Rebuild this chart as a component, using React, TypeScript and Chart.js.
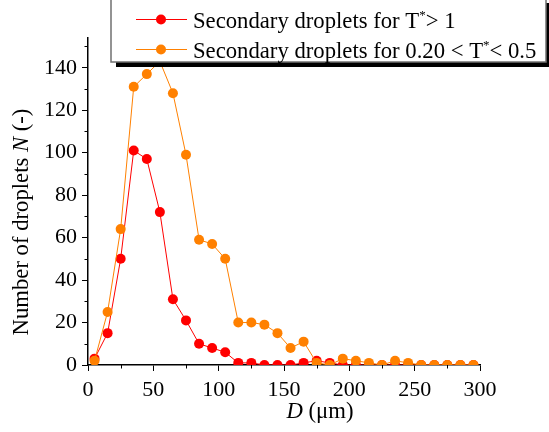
import React, { useEffect, useRef } from 'react';
import { Chart, registerables } from 'chart.js';

Chart.register(...registerables);

// ---------- data ----------
const diameters = [5, 15, 25, 35, 45, 55, 65, 75, 85, 95, 105, 115, 125, 135, 145, 155, 165, 175, 185, 195, 205, 215, 225, 235, 245, 255, 265, 275, 285, 295];
const countsHighT = [3, 15, 50, 101, 97, 72, 31, 21, 10, 8, 6, 1, 1, 0, 0, 0, 1, 2, 1, 0, 0, 0, 0, 0, 0, 0, 0, 0, 0, 0];
const countsMidT = [2, 25, 64, 131, 137, 143, 128, 99, 59, 57, 50, 20, 20, 19, 15, 8, 11, 1, 0, 3, 2, 1, 0, 2, 1, 0, 0, 0, 0, 0];

const xMajorTicks = [0, 50, 100, 150, 200, 250, 300];
const xMinorTicks = [25, 75, 125, 175, 225, 275];
const yMajorTicks = [0, 20, 40, 60, 80, 100, 120, 140];
const yMinorTicks = [10, 30, 50, 70, 90, 110, 130, 150];

const legendHighT = ['Secondary droplets for T', '*', '> 1'];
const legendMidT = ['Secondary droplets for 0.20 < T', '*', '< 0.5'];

const RED = '#ff0000';
const ORANGE = '#ff8000';
const FONT = '"Liberation Serif", "Times New Roman", serif';
const FS = 22;
const TFS = 22.7;

type Seg = { t: string; italic?: boolean; sup?: boolean };

function segFont(s: Seg) {
  const size = s.sup ? 13 : TFS;
  return `${s.italic ? 'italic ' : ''}${size}px ${FONT}`;
}

function segsWidth(ctx: CanvasRenderingContext2D, segs: Seg[]) {
  let w = 0;
  for (const s of segs) {
    ctx.font = segFont(s);
    w += ctx.measureText(s.t).width;
  }
  return w;
}

function drawSegs(ctx: CanvasRenderingContext2D, segs: Seg[], x: number, y: number) {
  let cx = x;
  for (const s of segs) {
    ctx.font = segFont(s);
    ctx.fillText(s.t, cx, s.sup ? y - 9 : y);
    cx += ctx.measureText(s.t).width;
  }
}

const overlayPlugin = {
  id: 'overlay',
  afterDraw(chart: any) {
    const ctx: CanvasRenderingContext2D = chart.ctx;
    const xs = chart.scales.x;
    const ys = chart.scales.y;
    const area = chart.chartArea;
    ctx.save();
    // minor ticks
    ctx.strokeStyle = '#000';
    ctx.lineWidth = 1;
    for (const v of xMinorTicks) {
      const px = Math.round(xs.getPixelForValue(v)) + 0.5;
      ctx.beginPath();
      ctx.moveTo(px, area.bottom);
      ctx.lineTo(px, area.bottom + 3.5);
      ctx.stroke();
    }
    for (const v of yMinorTicks) {
      const py = Math.round(ys.getPixelForValue(v)) + 0.5;
      ctx.beginPath();
      ctx.moveTo(area.left, py);
      ctx.lineTo(area.left - 3.5, py);
      ctx.stroke();
    }

    ctx.fillStyle = '#000';
    ctx.textBaseline = 'alphabetic';
    ctx.textAlign = 'left';

    // x title
    const xt: Seg[] = [{ t: 'D', italic: true }, { t: ' (\u03bcm)' }];
    const xw = segsWidth(ctx, xt);
    drawSegs(ctx, xt, 320 - xw / 2, 418);

    // y title
    const yt: Seg[] = [{ t: 'Number of droplets ' }, { t: 'N', italic: true }, { t: ' (-)' }];
    const yw = segsWidth(ctx, yt);
    ctx.save();
    ctx.translate(28, 222);
    ctx.rotate(-Math.PI / 2);
    drawSegs(ctx, yt, -yw / 2, 0);
    ctx.restore();

    // legend box
    const bx = 111, by = -2, bw = 435, bh = 64;
    ctx.fillStyle = '#000';
    ctx.fillRect(bx + 5, by + 5, bw, bh);
    ctx.fillStyle = '#fff';
    ctx.fillRect(bx, by, bw, bh);
    ctx.strokeStyle = '#707070';
    ctx.lineWidth = 1.5;
    ctx.strokeRect(bx, by, bw, bh);

    const rows = [
      { color: RED, y: 19, text: legendHighT },
      { color: ORANGE, y: 49, text: legendMidT },
    ];
    for (const r of rows) {
      ctx.strokeStyle = r.color;
      ctx.lineWidth = 1;
      ctx.beginPath();
      ctx.moveTo(136, r.y + 0.5);
      ctx.lineTo(187, r.y + 0.5);
      ctx.stroke();
      ctx.fillStyle = r.color;
      ctx.beginPath();
      ctx.arc(161, r.y + 0.5, 5, 0, Math.PI * 2);
      ctx.fill();
      ctx.fillStyle = '#000';
      drawSegs(ctx, [{ t: r.text[0] }, { t: r.text[1], sup: true }, { t: r.text[2] }], 193, r.y + 9);
    }
    ctx.restore();
  },
};

export default function App() {
  const ref = useRef<HTMLCanvasElement>(null);

  useEffect(() => {
    const canvas = ref.current;
    if (!canvas) return;
    const tickFont = { family: FONT, size: FS };
    const chart = new Chart(canvas, {
      type: 'line',
      data: {
        datasets: [
          {
            label: 'mid',
            data: diameters.map((d, i) => ({ x: d, y: countsMidT[i] })),
            borderColor: ORANGE,
            backgroundColor: ORANGE,
            pointBackgroundColor: ORANGE,
            pointBorderWidth: 0,
            pointRadius: 5,
            borderWidth: 1,
            tension: 0,
            clip: 0,
          },
          {
            label: 'high',
            data: diameters.map((d, i) => ({ x: d, y: countsHighT[i] })),
            borderColor: RED,
            backgroundColor: RED,
            pointBackgroundColor: RED,
            pointBorderWidth: 0,
            pointRadius: 5,
            borderWidth: 1,
            tension: 0,
            clip: 0,
          },
        ],
      },
      options: {
        responsive: false,
        devicePixelRatio: 1,
        animation: false,
        events: [],
        layout: { padding: { top: 38, right: 69, left: 0, bottom: 0 } },
        plugins: { legend: { display: false }, tooltip: { enabled: false } },
        scales: {
          x: {
            type: 'linear',
            min: 0,
            max: 300,
            afterBuildTicks: (s: any) => {
              s.ticks = xMajorTicks.map((v) => ({ value: v }));
            },
            afterFit: (s: any) => {
              s.height = 67;
            },
            ticks: { font: tickFont, color: '#000', padding: 6, maxRotation: 0, autoSkip: false },
            grid: { display: true, drawOnChartArea: false, drawTicks: true, tickLength: 6, color: '#000', lineWidth: 1 },
            border: { display: true, color: '#000', width: 1.5 },
          },
          y: {
            type: 'linear',
            min: 0,
            max: 154,
            afterBuildTicks: (s: any) => {
              s.ticks = yMajorTicks.map((v) => ({ value: v }));
            },
            afterFit: (s: any) => {
              s.width = 88;
            },
            ticks: { font: tickFont, color: '#000', padding: 5, autoSkip: false },
            grid: { display: true, drawOnChartArea: false, drawTicks: true, tickLength: 6, color: '#000', lineWidth: 1 },
            border: { display: true, color: '#000', width: 1.5 },
          },
        },
      } as any,
      plugins: [overlayPlugin],
    });
    return () => chart.destroy();
  }, []);

  return (
    <div style={{ position: 'absolute', left: 0, top: 0, width: 549, height: 432, background: '#fff' }}>
      <canvas ref={ref} width={549} height={432} style={{ display: 'block' }} />
    </div>
  );
}
